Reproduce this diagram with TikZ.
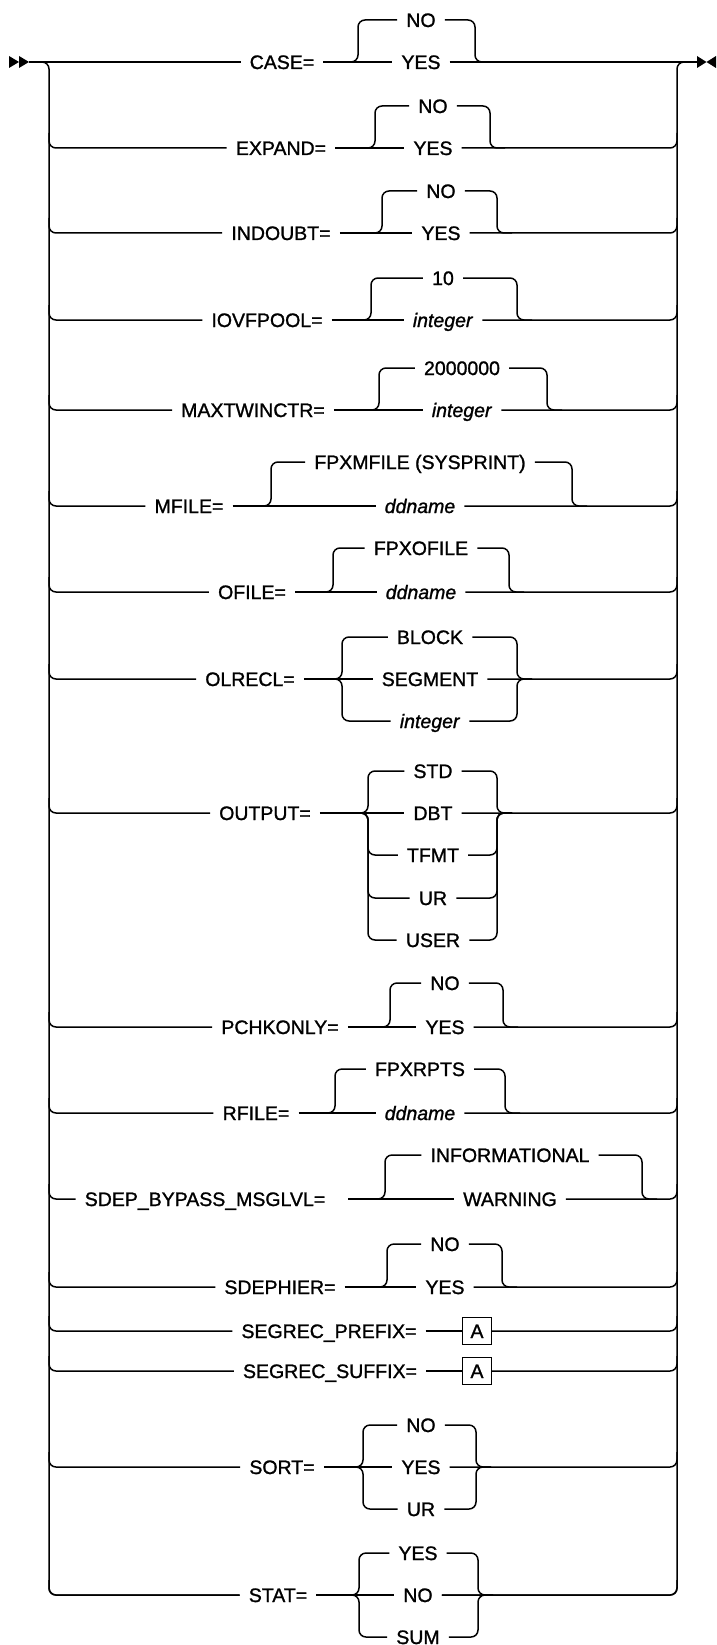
\documentclass[tikz,border=0pt]{standalone}
\usepackage{fontspec}
\setmainfont{Liberation Sans}[UprightFeatures={FakeBold=1.2}, ItalicFeatures={FakeBold=1.2}]
\usepackage{tikz}

\tikzset{
  rail/.style={line width=1.5pt, rounded corners=7pt},
  kw/.style={inner xsep=9pt, inner ysep=0pt, text height=14pt, text depth=0pt,
    font=\fontsize{19.5}{22}\selectfont},
  abox/.style={draw, line width=1.3pt, minimum width=29pt, minimum height=27pt,
    inner sep=0pt, text height=14pt, text depth=0pt, font=\fontsize{19.5}{22}\selectfont}
}

\begin{document}
\begin{tikzpicture}[x=1pt, y=-1pt]
    \useasboundingbox (0,0) rectangle (716,1645);

    % start and end marks
    \fill (9,56) -- (19,62) -- (9,68) -- cycle;
    \fill (19,56) -- (29,62) -- (19,68) -- cycle;
    \fill (697,56) -- (706.5,62) -- (697,68) -- cycle;
    \fill (716,56) -- (706.5,62) -- (716,68) -- cycle;
    \coordinate (start) at (29,62);
    \coordinate (stop) at (697,62);

    % CASE row on the main line
    \node[kw] (case) at (282,62) {CASE=};
    \node[kw] (case1) at (421,20) {NO};
    \node[kw] (case2) at (421,62) {YES};
    \draw[rail] (start) -- (case.west);
    \draw[rail] (case.east) -- (case2.west);
    \draw[rail] (case2.east) -- (stop);
    \draw[rail] (343,62) -- (358,62) -- (358,20) -- (case1.west);
    \draw[rail] (case1.east) -- (475,20) -- (475,62) -- (490,62);

    % keyword rows with their choices
    \foreach \n/\y/\cx/\xl/\xr/\xo/\g/\t/\opts in {
      expand/148/281/375/490/433/0/EXPAND=/{NO/-42,YES/0},
      indoubt/233/281/382/497/441/0/INDOUBT=/{NO/-42,YES/0},
      iovfpool/320/267/371/517/443/0/IOVFPOOL=/{10/-42,\textit{integer}/0},
      maxtwinctr/410/253/379/547/462/0/MAXTWINCTR=/{2000000/-42,\textit{integer}/0},
      mfile/506/189/271/572/420/0/MFILE=/{{FPXMFILE (SYSPRINT)}/-44,\textit{ddname}/0},
      ofile/592/252/333/509/421/0/OFILE=/{FPXOFILE/-44,\textit{ddname}/0},
      olrecl/679/250/342/517/430/0/OLRECL=/{BLOCK/-42,SEGMENT/0,\textit{integer}/42},
      output/813/265/368/497/433/0/OUTPUT=/{STD/-42,DBT/0,TFMT/42,UR/85,USER/127},
      pchkonly/1027/280/390/503/445/0/PCHKONLY=/{NO/-44,YES/0},
      rfile/1113/256/335/505/420/0/RFILE=/{FPXRPTS/-44,\textit{ddname}/0},
      sdep/1199/205/385/642/510/14/SDEP\_BYPASS\_MSGLVL=/{INFORMATIONAL/-44,WARNING/0},
      sdephier/1287/280/387/502/445/0/SDEPHIER=/{NO/-43,YES/0},
      sort/1467/282/363/476/421/0/SORT=/{NO/-42,YES/0,UR/42},
      stat/1595/278/359/478/418/0/STAT=/{YES/-42,NO/0,SUM/42}} {
      \node[kw] (\n) at (\cx,\y) {\t};
      \draw[rail] (49,\y-15) -- (49,\y) -- (\n.west);
      \foreach \o/\dy [count=\k] in \opts {
        \node[kw] (\n\k) at (\xo,\y+\dy) {\o};
        \ifnum\dy=0
          \draw[rail] ([xshift=\g pt]\n.east) -- (\n\k.west);
          \draw[rail] (\n\k.east) -- (677,\y) -- (677,\y-15);
        \else
          \draw[rail] (\xl-15,\y) -- (\xl,\y) -- (\xl,\y+\dy) -- (\n\k.west);
          \draw[rail] (\n\k.east) -- (\xr,\y+\dy) -- (\xr,\y) -- (\xr+15,\y);
        \fi
      }
    }

    % rows with a fragment reference
    \node[kw] (prefix) at (329,1331) {SEGREC\_PREFIX=};
    \node[abox] (prefixA) at (477,1331) {A};
    \draw[rail] (49,1316) -- (49,1331) -- (prefix.west);
    \draw[rail] (prefix.east) -- (prefixA.west);
    \draw[rail] (prefixA.east) -- (677,1331) -- (677,1316);

    \node[kw] (suffix) at (330,1371) {SEGREC\_SUFFIX=};
    \node[abox] (suffixA) at (477,1371) {A};
    \draw[rail] (49,1356) -- (49,1371) -- (suffix.west);
    \draw[rail] (suffix.east) -- (suffixA.west);
    \draw[rail] (suffixA.east) -- (677,1371) -- (677,1356);

    % left and right rails
    \draw[rail] (35,62) -- (49,62) -- (49,1595) -- (stat.west);
    \draw[rail] (stat2.east) -- (677,1595) -- (677,62) -- (stop);
\end{tikzpicture}
\end{document}
